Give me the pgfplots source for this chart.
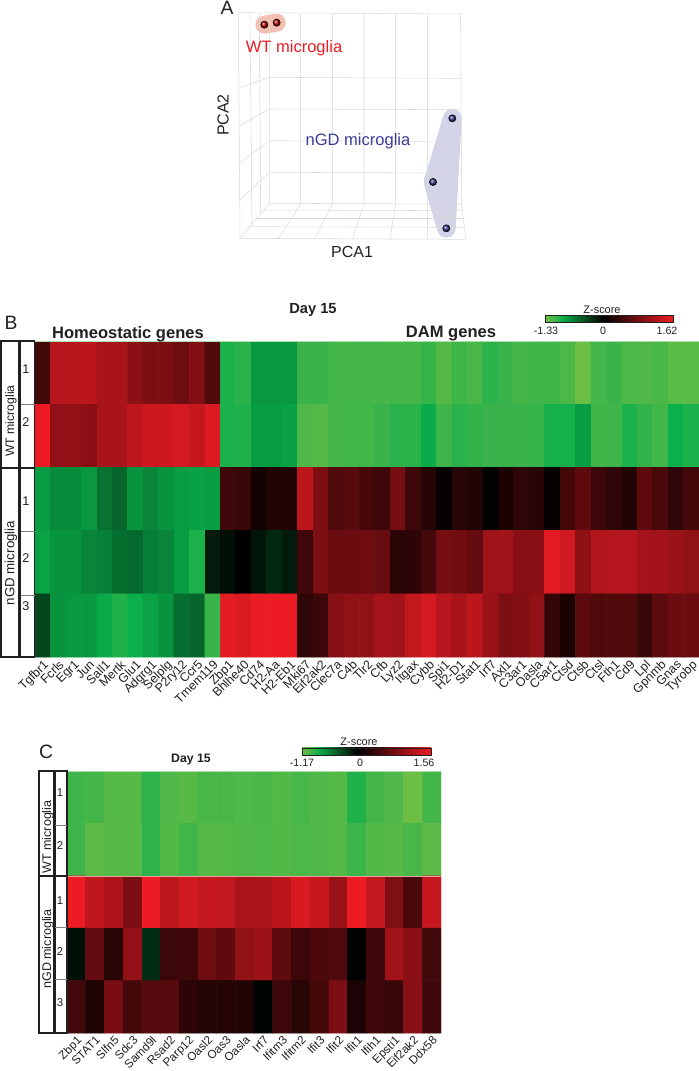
\documentclass[border=0pt]{standalone}
\usepackage{fontspec}
\setmainfont{Liberation Sans}
\usepackage{pgfplots}
\pgfplotsset{compat=1.18}
\definecolor{ink}{HTML}{231F20}
\definecolor{wtred}{HTML}{ED1C24}
\definecolor{ngdblue}{HTML}{3B3B98}
\definecolor{wthull}{HTML}{F3BFB0}
\pgfplotsset{
  colormap={zB}{rgb255(0pt)=(108,190,69); rgb255(8pt)=(57,180,74); rgb255(13pt)=(10,175,75); rgb255(45pt)=(0,0,0); rgb255(100pt)=(237,28,36)},
  colormap={zC}{rgb255(0pt)=(108,190,69); rgb255(8pt)=(57,180,74); rgb255(13pt)=(10,175,75); rgb255(43pt)=(0,0,0); rgb255(100pt)=(237,28,36)},
  heat/.style={
    scale only axis, y dir=reverse, axis line style={draw=none},
    ytick=\empty, xtick=data, major tick length=0pt, enlargelimits=false,
    ymin=-0.5, ymax=4.5,
    xticklabel style={rotate=45, anchor=north east, inner sep=1pt, text=ink},
  },
  bar/.style={
    colorbar horizontal,
    colorbar style={width=#1, height=5.5pt, xtick=\empty, ytick=\empty,
      axis line style={draw=ink, line width=0.5pt}},
  },
}
\newcommand{\gridln}[1]{\addplot[gray!30, line width=0.4pt, forget plot] coordinates {#1};}
\begin{document}
\begin{tikzpicture}
\path[use as bounding box] (0pt,0pt) rectangle (524.25pt,-803.25pt);

% panel A, coordinates are read off the crop
\begin{axis}[at={(150pt,0pt)}, anchor=north west, x=0.25pt, y=0.25pt, y dir=reverse,
  xmin=0, xmax=900, ymin=0, ymax=810, hide axis, clip=false]
\addplot[line width=13.5pt, line cap=round, color=wthull] coordinates {(193,74) (230,68)};
\addplot[fill=ngdblue!14, draw=ngdblue!22, line width=14pt, line join=round] coordinates {(757,355) (699,546) (739,685)} -- cycle;
\gridln{(115,38) (782,42) (785,612) (208,610) (208,40)}
\gridln{(115,38) (120,715) (797,718) (785,612)}
\gridln{(120,715) (208,610)}
\gridln{(302,42) (302,612) (235,715)}
\gridln{(397,42) (397,612) (345,715)}
\gridln{(492,42) (492,612) (458,717)}
\gridln{(587,42) (587,612) (570,717)}
\gridln{(683,42) (683,612) (682,718)}
\gridln{(208,232) (782,235)}
\gridln{(208,327) (782,329)}
\gridln{(208,422) (782,426)}
\gridln{(208,517) (782,519)}
\gridln{(115,265) (208,232)}
\gridln{(118,378) (208,327)}
\gridln{(118,490) (208,422)}
\gridln{(120,600) (208,517)}
\gridln{(150,40) (156,672)}
\gridln{(178,40) (182,640)}
\gridln{(190,630) (787,632)}
\gridln{(170,655) (790,655)}
\gridln{(150,680) (792,682)}
\addplot[only marks, mark=ball, mark size=2.7pt, ball color=red!70!black] coordinates {(193,74) (230,68)};
\addplot[only marks, mark=ball, mark size=2.7pt, ball color=ngdblue!90!black] coordinates {(757,355) (699,546) (739,685)};
\end{axis}

% panel B
\begin{axis}[heat, at={(26.25pt,-255.75pt)}, anchor=north west, width=498pt, height=237pt,
  colormap name=zB, point meta min=-1.33, point meta max=1.62,
  xmin=-0.5, xmax=42.5,
  xtick={0,...,42},
  xticklabels={Tgfbr1,Fcrls,Egr1,Jun,Sall1,Mertk,Glu1,Adgrg1,Selplg,P2ry12,Ccr5,Tmem119,Zbp1,Bhlhe40,Cd74,H2-Aa,H2-Eb1,Mki67,Eif2ak2,Clec7a,C4b,Tlr2,Cfb,Lyz2,Itgax,Cybb,Spi1,H2-D1,Stat1,Irf7,Axl1,C3ar1,Oasla,C5ar1,Ctsd,Ctsb,Ctsl,Fth1,Cd9,Lpl,Gpnmb,Gnas,Tyrobp},
  xticklabel style={font=\fontsize{9.3}{10}\selectfont},
  bar=95.7pt,
  colorbar style={at={(0.769,1.081)}, anchor=north west},
]
\addplot[matrix plot*, mesh/cols=43, point meta=explicit] coordinates {
(0,0)[.44] (1,0)[1.25] (2,0)[1.25] (3,0)[1.28] (4,0)[1.15] (5,0)[1.15] (6,0)[.95] (7,0)[.85] (8,0)[.85] (9,0)[.75] (10,0)[.88] (11,0)[.55] (12,0)[-1.0] (13,0)[-1.05] (14,0)[-.82] (15,0)[-.82] (16,0)[-.82] (17,0)[-1.1] (18,0)[-1.1] (19,0)[-1.15] (20,0)[-1.15] (21,0)[-1.15] (22,0)[-1.15] (23,0)[-1.15] (24,0)[-1.15] (25,0)[-1.08] (26,0)[-1.22] (27,0)[-1.12] (28,0)[-1.17] (29,0)[-1.05] (30,0)[-1.1] (31,0)[-1.15] (32,0)[-1.12] (33,0)[-1.12] (34,0)[-1.18] (35,0)[-1.33] (36,0)[-1.15] (37,0)[-1.1] (38,0)[-1.18] (39,0)[-1.2] (40,0)[-1.17] (41,0)[-1.25] (42,0)[-1.25]
(0,1)[1.62] (1,1)[1.0] (2,1)[1.0] (3,1)[.95] (4,1)[1.15] (5,1)[1.15] (6,1)[1.3] (7,1)[1.4] (8,1)[1.4] (9,1)[1.45] (10,1)[1.35] (11,1)[1.5] (12,1)[-1.0] (13,1)[-1.02] (14,1)[-.85] (15,1)[-.85] (16,1)[-.87] (17,1)[-1.2] (18,1)[-1.22] (19,1)[-1.15] (20,1)[-1.13] (21,1)[-1.13] (22,1)[-1.1] (23,1)[-1.05] (24,1)[-1.05] (25,1)[-.93] (26,1)[-1.12] (27,1)[-1.05] (28,1)[-1.07] (29,1)[-1.1] (30,1)[-1.1] (31,1)[-1.1] (32,1)[-1.08] (33,1)[-.98] (34,1)[-.98] (35,1)[-.85] (36,1)[-1.12] (37,1)[-1.12] (38,1)[-1.0] (39,1)[-1.07] (40,1)[-1.13] (41,1)[-.95] (42,1)[-1.0]
(0,2)[-.85] (1,2)[-.75] (2,2)[-.75] (3,2)[-.82] (4,2)[-.62] (5,2)[-.55] (6,2)[-.8] (7,2)[-.72] (8,2)[-.8] (9,2)[-.85] (10,2)[-.87] (11,2)[-.85] (12,2)[.42] (13,2)[.38] (14,2)[.12] (15,2)[.22] (16,2)[.22] (17,2)[1.28] (18,2)[.85] (19,2)[.55] (20,2)[.6] (21,2)[.48] (22,2)[.42] (23,2)[.8] (24,2)[.42] (25,2)[.25] (26,2)[.05] (27,2)[.27] (28,2)[.22] (29,2)[-.02] (30,2)[.18] (31,2)[.32] (32,2)[.26] (33,2)[.05] (34,2)[.45] (35,2)[.65] (36,2)[.4] (37,2)[.32] (38,2)[.22] (39,2)[.65] (40,2)[.5] (41,2)[.32] (42,2)[.45]
(0,3)[-.88] (1,3)[-.8] (2,3)[-.8] (3,3)[-.72] (4,3)[-.7] (5,3)[-.6] (6,3)[-.57] (7,3)[-.68] (8,3)[-.72] (9,3)[-.85] (10,3)[-1.0] (11,3)[-.15] (12,3)[-.08] (13,3)[0] (14,3)[-.12] (15,3)[-.22] (16,3)[-.15] (17,3)[.42] (18,3)[.85] (19,3)[.72] (20,3)[.72] (21,3)[.75] (22,3)[.7] (23,3)[.3] (24,3)[.31] (25,3)[.47] (26,3)[.8] (27,3)[.77] (28,3)[.68] (29,3)[1.08] (30,3)[1.1] (31,3)[.93] (32,3)[.93] (33,3)[1.55] (34,3)[1.42] (35,3)[.97] (36,3)[1.2] (37,3)[1.24] (38,3)[1.24] (39,3)[1.12] (40,3)[1.1] (41,3)[1.05] (42,3)[.98]
(0,4)[-.38] (1,4)[-.8] (2,4)[-.82] (3,4)[-.82] (4,4)[-.92] (5,4)[-1.02] (6,4)[-.95] (7,4)[-.88] (8,4)[-.8] (9,4)[-.6] (10,4)[-.55] (11,4)[-1.1] (12,4)[1.55] (13,4)[1.5] (14,4)[1.6] (15,4)[1.62] (16,4)[1.62] (17,4)[.32] (18,4)[.4] (19,4)[.9] (20,4)[.98] (21,4)[.98] (22,4)[1.12] (23,4)[1.1] (24,4)[1.33] (25,4)[1.45] (26,4)[1.25] (27,4)[1.15] (28,4)[1.27] (29,4)[1.05] (30,4)[.85] (31,4)[.88] (32,4)[1.0] (33,4)[.35] (34,4)[.18] (35,4)[.62] (36,4)[.55] (37,4)[.55] (38,4)[.55] (39,4)[.38] (40,4)[.62] (41,4)[.72] (42,4)[.72]
};
\end{axis}

% panel C
\begin{axis}[heat, at={(50.25pt,-578.25pt)}, anchor=north west, width=280.5pt, height=196.5pt,
  colormap name=zC, point meta min=-1.17, point meta max=1.56,
  xmin=-0.5, xmax=19.5,
  xtick={0,...,19},
  xticklabels={Zbp1,STAT1,Slfn5,Sdc3,Samd9l,Rsad2,Parp12,Oasl2,Oas3,Oasla,Irf7,Ifitm3,Ifitm2,Ifit3,Ifit2,Ifit1,Ifih1,Epsti1,Eif2ak2,Ddx58},
  xticklabel style={font=\fontsize{8.8}{10}\selectfont},
  bar=96.75pt,
  colorbar style={at={(0.628,1.088)}, anchor=north west},
]
\addplot[matrix plot*, mesh/cols=20, point meta=explicit] coordinates {
(0,0)[-.97] (1,0)[-1.0] (2,0)[-1.07] (3,0)[-1.08] (4,0)[-.92] (5,0)[-1.05] (6,0)[-1.08] (7,0)[-1.02] (8,0)[-1.02] (9,0)[-1.04] (10,0)[-1.02] (11,0)[-1.06] (12,0)[-1.01] (13,0)[-1.05] (14,0)[-1.07] (15,0)[-.88] (16,0)[-1.0] (17,0)[-1.05] (18,0)[-1.17] (19,0)[-1.0]
(0,1)[-.97] (1,1)[-1.1] (2,1)[-1.08] (3,1)[-1.08] (4,1)[-.92] (5,1)[-1.06] (6,1)[-.98] (7,1)[-1.07] (8,1)[-1.07] (9,1)[-1.05] (10,1)[-1.03] (11,1)[-1.06] (12,1)[-1.03] (13,1)[-1.05] (14,1)[-1.07] (15,1)[-.96] (16,1)[-1.06] (17,1)[-1.08] (18,1)[-1.02] (19,1)[-1.1]
(0,2)[1.56] (1,2)[1.26] (2,2)[1.14] (3,2)[.82] (4,2)[1.56] (5,2)[1.25] (6,2)[1.37] (7,2)[1.3] (8,2)[1.28] (9,2)[1.12] (10,2)[1.13] (11,2)[1.23] (12,2)[1.43] (13,2)[1.32] (14,2)[1.0] (15,2)[1.56] (16,2)[1.3] (17,2)[.83] (18,2)[.48] (19,2)[1.29]
(0,3)[-.07] (1,3)[.66] (2,3)[.28] (3,3)[.96] (4,3)[-.2] (5,3)[.4] (6,3)[.41] (7,3)[.72] (8,3)[.63] (9,3)[.95] (10,3)[1.03] (11,3)[.62] (12,3)[.39] (13,3)[.5] (14,3)[.53] (15,3)[0] (16,3)[.42] (17,3)[1.06] (18,3)[.91] (19,3)[.43]
(0,4)[.44] (1,4)[.2] (2,4)[.8] (3,4)[.45] (4,4)[.56] (5,4)[.56] (6,4)[.29] (7,4)[.24] (8,4)[.24] (9,4)[.22] (10,4)[-.02] (11,4)[.39] (12,4)[.28] (13,4)[.46] (14,4)[.81] (15,4)[.19] (16,4)[.42] (17,4)[.37] (18,4)[.91] (19,4)[.42]
};
\end{axis}

% boxes and text, in pixels of the reference
\begin{scope}[x=0.75pt, y=-0.75pt, every node/.style={text=ink, inner sep=0pt}]
\draw[green!45!gray!45, line width=0.5pt] (35,341) -- (699,341);
\draw[green!45!gray!45, line width=0.5pt] (67,771) -- (441,771);
\draw[red!35!white!85!gray, line width=0.7pt] (67,876) -- (441,876);

\draw[ink, line width=1.1pt] (1,341) rectangle (19,657);
\draw[ink, line width=1.1pt] (20.7,341) rectangle (34.5,657);
\draw[ink, line width=1.1pt] (1,468) -- (34.5,468);
\foreach \y in {404,531,595} \draw[gray, line width=0.5pt] (20.7,\y) -- (34.5,\y);
\node[rotate=90, font=\fontsize{9.2}{10}\selectfont] at (11,421) {WT microglia};
\node[rotate=90, font=\fontsize{10}{10}\selectfont] at (11,563) {nGD microglia};
\foreach \y/\t in {369/1,422/2,501/1,558/2,606/3} \node[font=\fontsize{9.5}{10}\selectfont] at (26,\y) {\t};

\draw[ink, line width=1.1pt] (39,771) rectangle (54,1033);
\draw[ink, line width=1.1pt] (55.3,771) rectangle (67,1033);
\draw[ink, line width=1.1pt] (39,876) -- (67,876);
\foreach \y in {825,927,979} \draw[gray, line width=0.5pt] (55.3,\y) -- (67,\y);
\node[rotate=90, font=\fontsize{9.4}{10}\selectfont] at (48,837) {WT microglia};
\node[rotate=90, font=\fontsize{9.4}{10}\selectfont] at (48,949) {nGD microglia};
\foreach \y/\t in {793/1,846/2,901/1,952/2,1003/3} \node[font=\fontsize{8.5}{10}\selectfont] at (60,\y) {\t};

\node[font=\fontsize{14.5}{15}\selectfont] at (227,8) {A};
\node[font=\fontsize{14.5}{15}\selectfont] at (11,323) {B};
\node[font=\fontsize{14.5}{15}\selectfont] at (46,752) {C};

\node[font=\fontsize{12.4}{13}\selectfont, text=wtred] at (294,48) {WT microglia};
\node[font=\fontsize{12.4}{13}\selectfont, text=ngdblue] at (358,141) {nGD microglia};
\node[font=\fontsize{12}{13}\selectfont] at (352,252) {PCA1};
\node[rotate=90, font=\fontsize{12}{13}\selectfont] at (223,115) {PCA2};

\node[font=\bfseries\fontsize{11}{12}\selectfont] at (313,310) {Day 15};
\node[font=\bfseries\fontsize{12.4}{13}\selectfont] at (128,334) {Homeostatic genes};
\node[font=\bfseries\fontsize{12.4}{13}\selectfont] at (451,334) {DAM genes};
\node[font=\fontsize{8.2}{9}\selectfont] at (602,310) {Z-score};
\node[font=\fontsize{8}{9}\selectfont] at (546,331) {-1.33};
\node[font=\fontsize{8}{9}\selectfont] at (603,331) {0};
\node[font=\fontsize{8}{9}\selectfont] at (667,331) {1.62};

\node[font=\bfseries\fontsize{9.2}{10}\selectfont] at (191,760) {Day 15};
\node[font=\fontsize{8.2}{9}\selectfont] at (359,742) {Z-score};
\node[font=\fontsize{8}{9}\selectfont] at (302,763) {-1.17};
\node[font=\fontsize{8}{9}\selectfont] at (360,763) {0};
\node[font=\fontsize{8}{9}\selectfont] at (424,763) {1.56};
\end{scope}
\end{tikzpicture}
\end{document}
